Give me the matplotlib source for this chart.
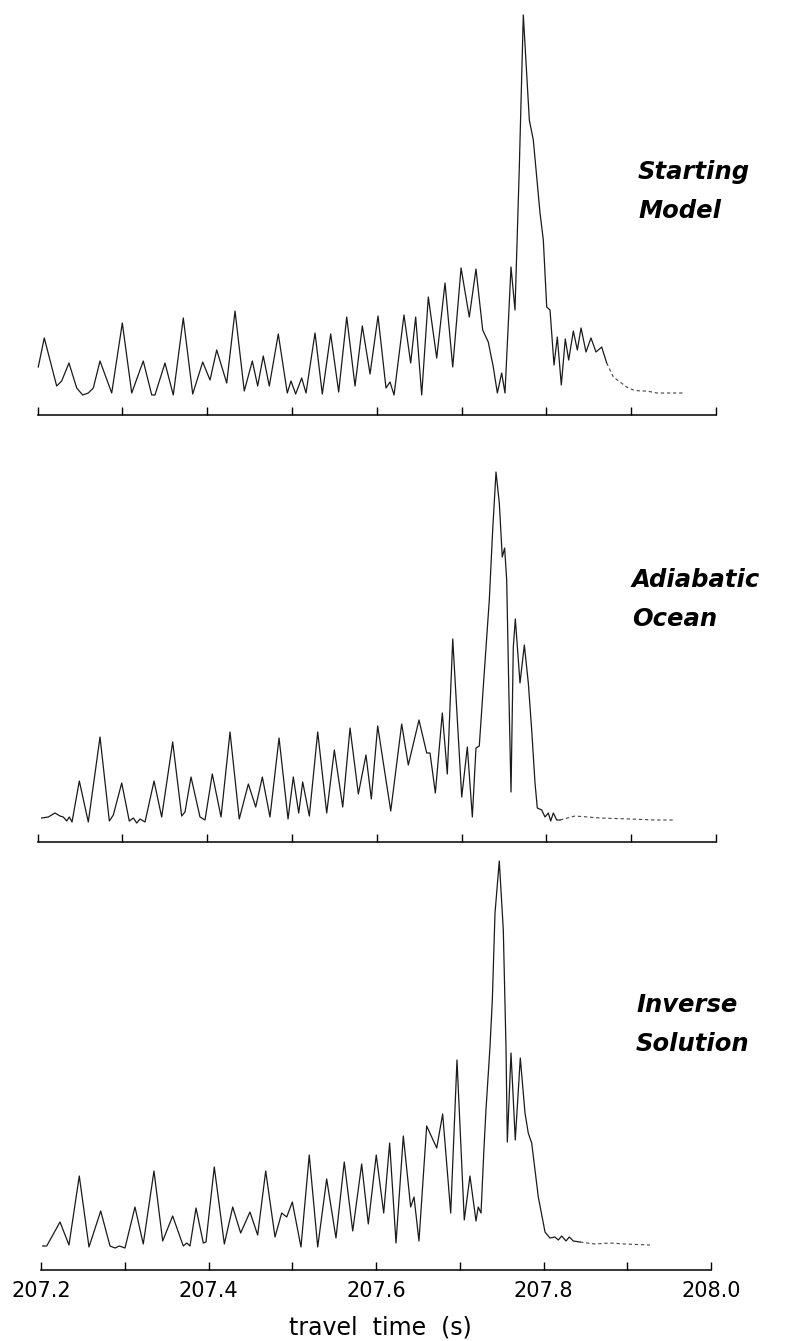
import numpy as np
import matplotlib

matplotlib.use("Agg")
import matplotlib.pyplot as plt

# arrival-pattern traces, time in ms after 207.2 s, relative intensity (arb. units)
start_ms = [0.9, 8.0, 22.6, 28.5, 37.1, 46.2, 53.3, 59.9, 65.8, 73.7, 87.5, 100.0,
            111.1, 124.7, 134.7, 138.5, 150.3, 160.1, 171.9, 183.0, 194.8, 203.4,
            211.3, 223.1, 232.9, 243.8, 253.3, 259.6, 266.2, 273.3, 283.9, 294.5,
            298.9, 304.4, 311.5, 316.6, 327.2, 335.8, 345.7, 355.1, 364.6, 374.4,
            383.0, 392.1, 401.5, 410.9, 415.6, 420.4, 432.1, 440.0, 445.9, 453.0,
            460.8, 470.7, 480.5, 489.6, 499.4, 509.1, 517.0, 524.9, 531.5, 537.4,
            542.2, 547.3, 551.2, 558.3, 563.0, 568.1, 572.8, 579.9, 584.6, 592.5,
            596.4, 600.4, 604.3, 609.0, 612.9, 617.6, 622.3, 626.3, 631.8, 636.5,
            640.9, 646.7, 652.6, 658.5, 665.2, 671.1, 678.9, 686.8, 694.7, 702.5,
            710.4, 718.3, 730.1, 745.8, 761.5]
start_amp = [48, 77, 29, 34, 52, 27, 20, 22, 27, 54, 22, 92,
             22, 54, 20, 20, 52, 20, 97, 21, 53, 35,
             65, 32, 104, 24, 54, 29, 59, 29, 81, 22,
             34, 21, 37, 22, 82, 21, 81, 23, 98, 29,
             89, 41, 99, 27, 33, 20, 100, 52, 98, 20,
             118, 57, 132, 48, 147, 98, 146, 85, 73, 48,
             22, 42, 22, 148, 105, 248, 400, 295, 275, 202,
             175, 108, 105, 50, 78, 30, 76, 55, 84, 65,
             87, 63, 77, 63, 68, 52, 38, 33, 28, 25,
             24, 24, 22, 22, 22]

adiab_ms = [5.0, 12.7, 20.6, 26.5, 30.4, 34.4, 37.5, 40.7, 49.3, 59.9, 73.7, 84.7,
            89.4, 99.3, 108.2, 113.0, 117.0, 120.9, 126.8, 137.4, 146.4, 159.4,
            170.0, 173.9, 181.0, 191.6, 197.5, 206.1, 216.4, 227.0, 237.9, 248.6,
            257.3, 265.1, 274.1, 284.8, 295.4, 301.6, 308.0, 312.7, 320.5, 330.4,
            341.0, 350.0, 359.9, 368.5, 378.3, 387.3, 393.6, 401.1, 416.5, 429.4,
            437.2, 449.8, 458.9, 462.8, 469.1, 477.3, 483.2, 489.6, 500.2, 506.8,
            512.7, 517.0, 520.9, 525.6, 532.7, 536.7, 540.6, 544.5, 548.0, 550.8,
            553.2, 555.9, 558.3, 561.0, 563.4, 568.9, 574.0, 578.7, 582.7, 586.6,
            589.3, 594.5, 598.4, 602.3, 605.1, 608.2, 612.2, 616.1, 633.8, 663.3,
            698.6, 728.1, 751.7]
adiab_amp = [24, 25, 29, 26, 25, 21, 25, 20, 61, 20, 105, 21,
             27, 59, 21, 24, 19, 23, 20, 61, 25, 100,
             26, 30, 65, 25, 22, 68, 25, 110, 23, 58,
             35, 65, 25, 104, 23, 65, 29, 60, 26, 110,
             29, 92, 35, 114, 48, 87, 43, 116, 31, 118,
             77, 122, 89, 89, 49, 129, 68, 203, 45, 95,
             25, 94, 96, 155, 242, 312, 370, 339, 285, 294,
             262, 145, 50, 195, 223, 159, 197, 159, 112, 59,
             34, 32, 25, 29, 21, 29, 22, 22, 26, 24,
             23, 22, 22]

inverse_ms = [2.0, 6.8, 22.7, 33.4, 45.7, 57.3, 71.3, 82.4, 88.4, 93.5, 100.3, 112.2,
              122.1, 134.9, 145.3, 157.2, 169.9, 174.0, 177.9, 185.1, 193.8, 197.0,
              206.9, 218.9, 228.9, 238.4, 249.5, 258.7, 268.3, 279.4, 287.4, 293.4,
              300.1, 310.4, 320.3, 330.4, 341.1, 352.2, 362.1, 372.2, 382.9, 390.8,
              400.3, 409.2, 416.3, 423.9, 432.6, 441.4, 445.4, 451.3, 460.5, 472.5,
              479.6, 489.2, 496.7, 505.4, 512.2, 519.4, 522.1, 525.4, 529.0, 531.3,
              536.1, 538.9, 542.1, 547.2, 552.0, 555.2, 556.8, 561.2, 566.3, 572.3,
              577.9, 581.8, 585.9, 593.8, 601.8, 607.7, 613.7, 617.7, 621.7, 626.9,
              630.8, 635.6, 643.6, 661.5, 679.4, 697.3, 727.1]
inverse_amp = [24, 24, 48, 25, 94, 23, 59, 24, 22, 24, 22, 63,
               26, 99, 29, 54, 24, 27, 24, 62, 27, 28,
               103, 26, 63, 37, 58, 35, 99, 33, 57, 53,
               68, 23, 115, 23, 91, 32, 108, 39, 106, 46,
               115, 57, 127, 27, 134, 63, 73, 29, 144, 122,
               156, 57, 210, 50, 94, 49, 63, 57, 123, 160,
               223, 270, 357, 409, 340, 223, 128, 217, 130, 212,
               157, 137, 127, 73, 38, 32, 33, 30, 34, 29,
               33, 29, 28, 26, 27, 26, 25]

panel_names = [("Starting", "Model"), ("Adiabatic", "Ocean"), ("Inverse", "Solution")]
dash_from_ms = [671.1, 616.1, 643.6]   # faint, broken end of each trace
minor_ticks = [207.3, 207.5, 207.7, 207.9]
major_ticks = [207.2, 207.4, 207.6, 207.8, 208.0]
tick_labels = ["207.2", "207.4", "207.6", "207.8", "208.0"]

traces = [(start_ms, start_amp), (adiab_ms, adiab_amp), (inverse_ms, inverse_amp)]

W, H = 790, 1341
fig = plt.figure(figsize=(W / 100, H / 100), dpi=100)
plt.rcParams["font.family"] = ["DejaVu Sans"]

# (left px, right px, axis-line y px, top y px, label x px, label y px)
frames = [(37.5, 716, 415, 5, 638, 172),
          (37.5, 716, 842, 432, 632, 580),
          (41, 711, 1270, 860, 636, 1005)]

for i, ((ms, amp), (l, r, yb, yt, lx, ly)) in enumerate(zip(traces, frames)):
    ax = fig.add_axes([l / W, 1 - yb / H, (r - l) / W, (yb - yt) / H])
    t = 207.2 + np.array(ms) / 1000.0
    a = np.array(amp, dtype=float)
    cut = 207.2 + dash_from_ms[i] / 1000.0
    solid = t <= cut
    tail = t >= cut
    ax.plot(t[solid], a[solid], color="#1a1a1a", lw=0.9, clip_on=False,
            solid_joinstyle="round")
    ax.plot(t[tail], a[tail], color="#444444", lw=0.8, ls=(0, (3, 2.5)),
            clip_on=False)

    ax.set_xlim(207.2, 208.0)
    ax.set_ylim(0, yb - yt)
    for s in ("top", "left", "right"):
        ax.spines[s].set_visible(False)
    ax.spines["bottom"].set_linewidth(1.1)
    ax.set_yticks([])
    ax.set_xticks(major_ticks)
    ax.set_xticks(minor_ticks, minor=True)
    ax.tick_params(axis="x", which="both", direction="in", length=6, width=1.0)
    if i == 2:
        ax.set_xticklabels(tick_labels, fontsize=15)
        ax.tick_params(axis="x", pad=8)
    else:
        ax.set_xticklabels([])
    ax.patch.set_alpha(0)

    top, bottom = panel_names[i]
    fig.text(lx / W, 1 - ly / H, top, fontsize=17.5, style="italic",
             weight="bold", ha="left", va="center")
    fig.text(lx / W, 1 - (ly + 39) / H, bottom, fontsize=17.5, style="italic",
             weight="bold", ha="left", va="center")

fig.text(380 / W, 1 - 1327 / H, "travel  time  (s)", fontsize=17,
         ha="center", va="center")

fig.savefig("out.png", dpi=100, facecolor="white")
